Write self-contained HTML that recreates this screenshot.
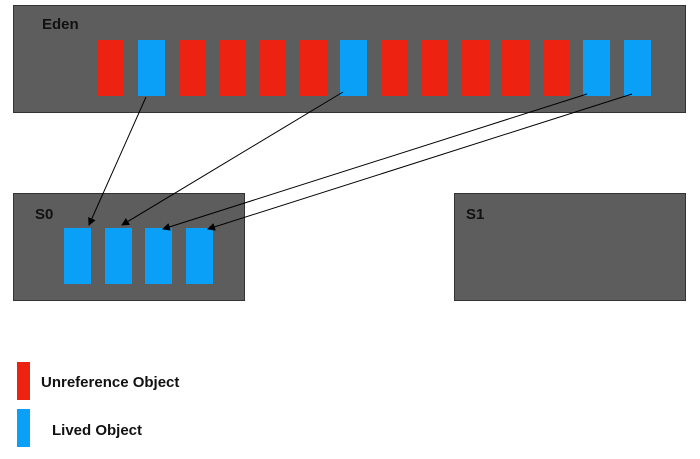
<!DOCTYPE html><html><head><style>body{margin:0;background:#fff}</style></head><body>
<svg width="700" height="454" xmlns="http://www.w3.org/2000/svg" font-family="Liberation Sans, sans-serif" font-weight="bold">
<defs><marker id="a" markerWidth="8" markerHeight="8" refX="7" refY="4" orient="auto" markerUnits="userSpaceOnUse"><path d="M0,0 L8,4 L0,8z" fill="#000"/></marker></defs>
<rect x="13.5" y="5.5" width="672" height="107" fill="#5d5d5d" stroke="#333"/>
<text x="42" y="29" font-size="15" fill="#111">Eden</text>
<g fill="#ee2211">
<rect x="97" y="40" width="27" height="56"/><rect x="179" y="40" width="27" height="56" fill="#ee2211"/>
<rect x="219" y="40" width="27" height="56"/><rect x="259" y="40" width="27" height="56"/>
<rect x="300" y="40" width="27" height="56"/><rect x="381" y="40" width="27" height="56"/>
<rect x="421" y="40" width="27" height="56"/><rect x="462" y="40" width="27" height="56"/>
<rect x="502" y="40" width="27" height="56"/><rect x="543" y="40" width="27" height="56"/>
</g>
<g fill="#0aa0f7">
<rect x="138" y="40" width="27" height="56"/><rect x="340" y="40" width="27" height="56"/>
<rect x="583" y="40" width="27" height="56"/><rect x="624" y="40" width="27" height="56"/>
</g>
<rect x="13.5" y="193.5" width="231" height="107" fill="#5d5d5d" stroke="#333"/>
<text x="35" y="219" font-size="15" fill="#111">S0</text>
<g fill="#0aa0f7">
<rect x="64" y="228" width="27" height="56"/><rect x="105" y="228" width="27" height="56"/>
<rect x="145" y="228" width="27" height="56"/><rect x="186" y="228" width="27" height="56"/>
</g>
<rect x="454.5" y="193.5" width="231" height="107" fill="#5d5d5d" stroke="#333"/>
<text x="466" y="219" font-size="15" fill="#111">S1</text>
<g stroke="#000" stroke-width="1" marker-end="url(#a)">
<line x1="146" y1="97" x2="89" y2="225"/>
<line x1="343" y1="92" x2="122" y2="225"/>
<line x1="587" y1="94" x2="163" y2="229"/>
<line x1="632" y1="94" x2="208" y2="229"/>
</g>
<rect x="17" y="362" width="13" height="38" fill="#ee2211"/>
<rect x="17" y="409" width="13" height="38" fill="#0aa0f7"/>
<text x="41" y="387" font-size="15" fill="#111">Unreference Object</text>
<text x="52" y="435" font-size="15" fill="#111">Lived Object</text>
</svg>
</body></html>
